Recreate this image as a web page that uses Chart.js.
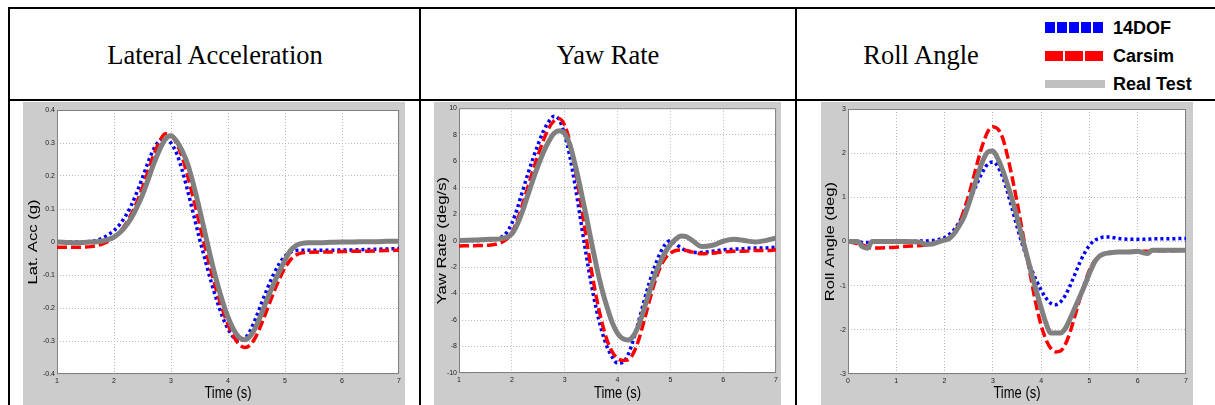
<!DOCTYPE html>
<html lang="en">
<head>
<meta charset="UTF-8">
<title>14DOF / Carsim / Real Test comparison</title>
<script src="https://cdn.jsdelivr.net/npm/chart.js@4"></script>
<style>
  * { margin: 0; padding: 0; box-sizing: border-box; }
  body { width: 1215px; height: 405px; background: #fff; position: relative; overflow: hidden; }
  .rule { position: absolute; background: #000; }
  .head { position: absolute; top: 40px; height: 30px; line-height: 30px; text-align: center;
          font-family: 'Liberation Serif', 'Times New Roman', serif; font-size: 26.5px; color: #000; }
  .panel { position: absolute; top: 102px; }
  .swatch { position: absolute; left: 1045px; }
  .lg { position: absolute; left: 1113px; font-family: 'Liberation Sans', Arial, sans-serif;
        font-weight: bold; font-size: 18px; line-height: 20px; color: #000; }
</style>
</head>
<body>
  <!-- table rules -->
  <div class="rule" style="left:8px;top:7px;width:1207px;height:2px"></div>
  <div class="rule" style="left:8px;top:99px;width:1207px;height:2px"></div>
  <div class="rule" style="left:8px;top:7px;width:2px;height:398px"></div>
  <div class="rule" style="left:419px;top:7px;width:2px;height:398px"></div>
  <div class="rule" style="left:795px;top:7px;width:2px;height:398px"></div>

  <div class="head" style="left:10px;width:410px">Lateral Acceleration</div>
  <div class="head" style="left:421px;width:374px">Yaw Rate</div>
  <div class="head" style="left:841px;width:160px">Roll Angle</div>

  <!-- legend -->
  <div class="swatch" style="top:22px;width:58px;height:11px;background:repeating-linear-gradient(to right,#0000ff 0 10px,transparent 10px 12px)"></div>
  <div class="swatch" style="top:51px;width:58px;height:10px;background:repeating-linear-gradient(to right,#ff0000 0 18px,transparent 18px 20px)"></div>
  <div class="swatch" style="top:80px;width:60px;height:8px;background:#c0c0c0"></div>
  <div class="lg" style="top:18px">14DOF</div>
  <div class="lg" style="top:46px">Carsim</div>
  <div class="lg" style="top:74px">Real Test</div>

  <div class="panel" style="left:23px"><canvas id="latChart" width="382" height="303"></canvas></div>
  <div class="panel" style="left:434px"><canvas id="yawChart" width="347" height="303"></canvas></div>
  <div class="panel" style="left:821px"><canvas id="rollChart" width="372" height="303"></canvas></div>

<script>
const seriesNames = ['14DOF', 'Carsim', 'Real Test'];

// time samples (s) for lateral acc and yaw rate
const simTime = [1.0, 1.3, 1.6, 1.7, 1.8, 1.9, 2.0, 2.1, 2.2, 2.3,
  2.4, 2.5, 2.6, 2.7, 2.8, 2.9, 3.0, 3.1, 3.2, 3.3,
  3.4, 3.5, 3.6, 3.7, 3.8, 3.9, 4.0, 4.1, 4.2, 4.3,
  4.4, 4.5, 4.6, 4.7, 4.8, 4.9, 5.0, 5.1, 5.2, 5.3,
  5.4, 5.6, 5.8, 6.0, 6.2, 6.4, 6.6, 6.8, 7.0];

// lateral acceleration (g)
const latDof = [0, 0, 0.002, 0.005, 0.012, 0.022, 0.035, 0.053, 0.078, 0.11,
  0.15, 0.195, 0.243, 0.283, 0.308, 0.315, 0.3, 0.268, 0.215, 0.15,
  0.08, 0.01, -0.055, -0.118, -0.175, -0.225, -0.263, -0.29, -0.3, -0.292,
  -0.265, -0.225, -0.18, -0.137, -0.098, -0.066, -0.043, -0.031, -0.026, -0.025,
  -0.025, -0.025, -0.025, -0.024, -0.024, -0.023, -0.022, -0.021, -0.02];
const latCarsim = [-0.016, -0.016, -0.014, -0.011, -0.006, 0.002, 0.014, 0.03, 0.053, 0.083,
  0.12, 0.165, 0.215, 0.265, 0.305, 0.328, 0.325, 0.298, 0.255, 0.195,
  0.127, 0.055, -0.017, -0.085, -0.148, -0.203, -0.25, -0.287, -0.311, -0.32,
  -0.31, -0.283, -0.243, -0.198, -0.153, -0.113, -0.078, -0.053, -0.039, -0.033,
  -0.031, -0.03, -0.03, -0.029, -0.028, -0.028, -0.027, -0.026, -0.025];
const latReal = [0, -0.002, 0, 0.001, 0.003, 0.008, 0.015, 0.028, 0.047, 0.072,
  0.105, 0.143, 0.19, 0.238, 0.28, 0.312, 0.322, 0.305, 0.275, 0.232,
  0.17, 0.1, 0.025, -0.05, -0.118, -0.178, -0.228, -0.266, -0.29, -0.296,
  -0.283, -0.253, -0.212, -0.168, -0.127, -0.09, -0.055, -0.025, -0.01, -0.004,
  -0.002, -0.002, -0.001, 0, 0, 0.001, 0.001, 0.002, 0.002];

// yaw rate (deg/s)
const yawDof = [0, 0, 0.05, 0.1, 0.25, 0.6, 1.3, 2.4, 3.7, 5.0,
  6.2, 7.3, 8.3, 9.0, 9.4, 9.1, 8.0, 6.3, 4.1, 1.6,
  -0.9, -3.2, -5.2, -6.8, -8.0, -8.8, -9.25, -9.2, -8.6, -7.5,
  -6.1, -4.6, -3.2, -2.0, -1.0, -0.3, 0.0, -0.25, -0.55, -0.75,
  -0.85, -0.9, -0.8, -0.7, -0.65, -0.6, -0.55, -0.55, -0.5];
const yawCarsim = [-0.4, -0.38, -0.33, -0.28, -0.15, 0.1, 0.6, 1.5, 2.7, 4.0,
  5.3, 6.5, 7.6, 8.5, 9.05, 9.2, 8.7, 7.4, 5.4, 3.0,
  0.4, -2.1, -4.3, -6.1, -7.5, -8.4, -8.9, -9.05, -9.0, -8.5,
  -7.5, -6.1, -4.6, -3.2, -2.1, -1.35, -0.95, -0.75, -0.7, -0.75,
  -0.85, -1.0, -0.95, -0.85, -0.8, -0.8, -0.75, -0.75, -0.7];
const yawReal = [0, 0.05, 0.1, 0.1, 0.15, 0.25, 0.5, 1.2, 2.2, 3.4,
  4.6, 5.7, 6.7, 7.5, 8.1, 8.3, 8.1, 7.2, 5.7, 3.9,
  2.0, 0.0, -1.9, -3.6, -5.0, -6.2, -7.0, -7.4, -7.5, -7.2,
  -6.4, -5.2, -3.9, -2.7, -1.7, -0.9, -0.3, 0.1, 0.35, 0.3,
  0.05, -0.45, -0.35, -0.05, 0.1, 0.0, -0.1, 0.0, 0.2];

// time samples (s) for roll angle
const rollTime = [0.0, 0.2, 0.3, 0.4, 0.5, 0.8, 1.2, 1.5, 1.6, 1.7,
  1.8, 1.9, 2.0, 2.1, 2.2, 2.3, 2.4, 2.5, 2.6, 2.7,
  2.8, 2.9, 3.0, 3.1, 3.2, 3.3, 3.4, 3.5, 3.6, 3.7,
  3.8, 3.9, 4.0, 4.1, 4.2, 4.3, 4.4, 4.5, 4.6, 4.7,
  4.8, 4.9, 5.0, 5.1, 5.2, 5.3, 5.4, 5.6, 5.8, 6.0,
  6.1, 6.2, 6.3, 6.5, 7.0];

// roll angle (deg)
const rollDof = [0, 0, -0.02, -0.02, 0, 0, 0, 0.01, 0.01, 0.02,
  0.03, 0.05, 0.09, 0.16, 0.27, 0.43, 0.63, 0.87, 1.13, 1.38,
  1.6, 1.76, 1.8, 1.7, 1.47, 1.13, 0.74, 0.34, -0.03, -0.35,
  -0.63, -0.88, -1.1, -1.28, -1.4, -1.43, -1.37, -1.22, -1.0, -0.74,
  -0.48, -0.26, -0.09, 0.02, 0.07, 0.1, 0.1, 0.07, 0.05, 0.05,
  0.05, 0.05, 0.06, 0.06, 0.07];
const rollCarsim = [0, -0.05, -0.08, -0.12, -0.15, -0.14, -0.11, -0.09, -0.08, -0.06,
  -0.04, -0.01, 0.03, 0.09, 0.2, 0.4, 0.7, 1.05, 1.45, 1.87,
  2.23, 2.5, 2.6, 2.55, 2.35, 1.95, 1.45, 0.9, 0.3, -0.3,
  -0.9, -1.45, -1.9, -2.22, -2.42, -2.5, -2.48, -2.33, -2.05, -1.68,
  -1.3, -0.95, -0.65, -0.45, -0.34, -0.28, -0.25, -0.24, -0.23, -0.22,
  -0.22, -0.22, -0.21, -0.21, -0.2];
const rollReal = [0, 0, -0.12, -0.15, 0, 0, 0, -0.02, -0.06, -0.06,
  -0.04, 0, 0.03, 0.07, 0.18, 0.35, 0.55, 0.85, 1.2, 1.55,
  1.85, 2.03, 2.05, 1.88, 1.62, 1.3, 0.95, 0.55, 0.12, -0.3,
  -0.72, -1.12, -1.5, -1.85, -2.07, -2.07, -2.07, -1.97, -1.75, -1.5,
  -1.25, -1.0, -0.72, -0.48, -0.34, -0.28, -0.26, -0.24, -0.24, -0.22,
  -0.25, -0.27, -0.2, -0.2, -0.2];

const sans = "'Liberation Sans', Arial, sans-serif";

// grey figure background, white axes, grey box (matlab look)
const matlabFrame = {
  id: 'matlabFrame',
  beforeDraw(chart) {
    const { ctx, chartArea: a, width, height } = chart;
    ctx.save();
    ctx.fillStyle = '#cccccc';
    ctx.fillRect(0, 0, width, height);
    ctx.fillStyle = '#ffffff';
    ctx.fillRect(a.left, a.top, a.right - a.left, a.bottom - a.top);
    ctx.restore();
  },
  beforeDatasetsDraw(chart) {
    const { ctx, chartArea: a } = chart;
    ctx.save();
    ctx.strokeStyle = '#808080';
    ctx.lineWidth = 1;
    ctx.strokeRect(a.left + 0.5, a.top + 0.5, a.right - a.left - 1, a.bottom - a.top - 1);
    ctx.restore();
  }
};

// axis titles in the source figure are stretched, so draw them scaled
const stretchedTitles = {
  id: 'stretchedTitles',
  afterDraw(chart, args, opts) {
    const { ctx, chartArea: a } = chart;
    ctx.save();
    ctx.fillStyle = '#000';
    ctx.textAlign = 'center';
    ctx.textBaseline = 'middle';
    ctx.font = '13px ' + sans;

    ctx.save();
    ctx.translate((a.left + a.right) / 2, chart.height - 11);
    ctx.scale(1, 1.2);
    ctx.fillText('Time (s)', 0, 0);
    ctx.restore();

    ctx.translate(opts.x, (a.top + a.bottom) / 2);
    ctx.rotate(-Math.PI / 2);
    ctx.scale(1.28, 1);
    ctx.fillText(opts.text, 0, 0);
    ctx.restore();
  }
};

function pairs(xs, ys) {
  return xs.map((x, i) => ({ x: x, y: ys[i] }));
}

function drawPanel(id, o) {
  return new Chart(document.getElementById(id), {
    type: 'line',
    data: {
      datasets: [
        { label: seriesNames[2], data: pairs(o.time, o.real), borderColor: '#808080', borderWidth: 5, order: 0 },
        { label: seriesNames[1], data: pairs(o.time, o.carsim), borderColor: '#ff0000', borderWidth: 3.5, borderDash: [10, 4], order: 1 },
        { label: seriesNames[0], data: pairs(o.time, o.dof), borderColor: '#0000ff', borderWidth: 3.5, borderDash: [3, 3], order: 2 }
      ]
    },
    options: {
      responsive: false,
      animation: false,
      events: [],
      datasets: { line: { pointRadius: 0, fill: false, cubicInterpolationMode: 'monotone' } },
      layout: { autoPadding: false, padding: { left: 0, top: o.top, right: o.right, bottom: 0 } },
      plugins: {
        legend: { display: false },
        tooltip: { enabled: false },
        stretchedTitles: { text: o.yTitle, x: o.titleX }
      },
      scales: {
        x: {
          type: 'linear', min: o.xMin, max: o.xMax,
          ticks: { stepSize: 1, padding: 3, maxRotation: 0, color: '#222', font: { family: sans, size: 7 } },
          grid: { color: '#bbbbbb', drawTicks: false },
          border: { display: false, dash: [1, 2] },
          afterFit: s => { s.height = o.bottom; }
        },
        y: {
          min: o.yMin, max: o.yMax,
          ticks: { stepSize: o.yStep, padding: 2, color: '#222', font: { family: sans, size: 7 } },
          grid: { color: '#bbbbbb', drawTicks: false },
          border: { display: false, dash: [1, 2] },
          afterFit: s => { s.width = o.left; }
        }
      }
    },
    plugins: [matlabFrame, stretchedTitles]
  });
}

drawPanel('latChart', {
  time: simTime, dof: latDof, carsim: latCarsim, real: latReal,
  xMin: 1, xMax: 7, yMin: -0.4, yMax: 0.4, yStep: 0.1, yTitle: 'Lat. Acc (g)',
  left: 34, top: 8, right: 6, bottom: 31, titleX: 10
});
drawPanel('yawChart', {
  time: simTime, dof: yawDof, carsim: yawCarsim, real: yawReal,
  xMin: 1, xMax: 7, yMin: -10, yMax: 10, yStep: 2, yTitle: 'Yaw Rate (deg/s)',
  left: 25, top: 6, right: 4, bottom: 32, titleX: 8
});
drawPanel('rollChart', {
  time: rollTime, dof: rollDof, carsim: rollCarsim, real: rollReal,
  xMin: 0, xMax: 7, yMin: -3, yMax: 3, yStep: 1, yTitle: 'Roll Angle (deg)',
  left: 27, top: 7, right: 7, bottom: 31, titleX: 9
});
</script>
</body>
</html>
